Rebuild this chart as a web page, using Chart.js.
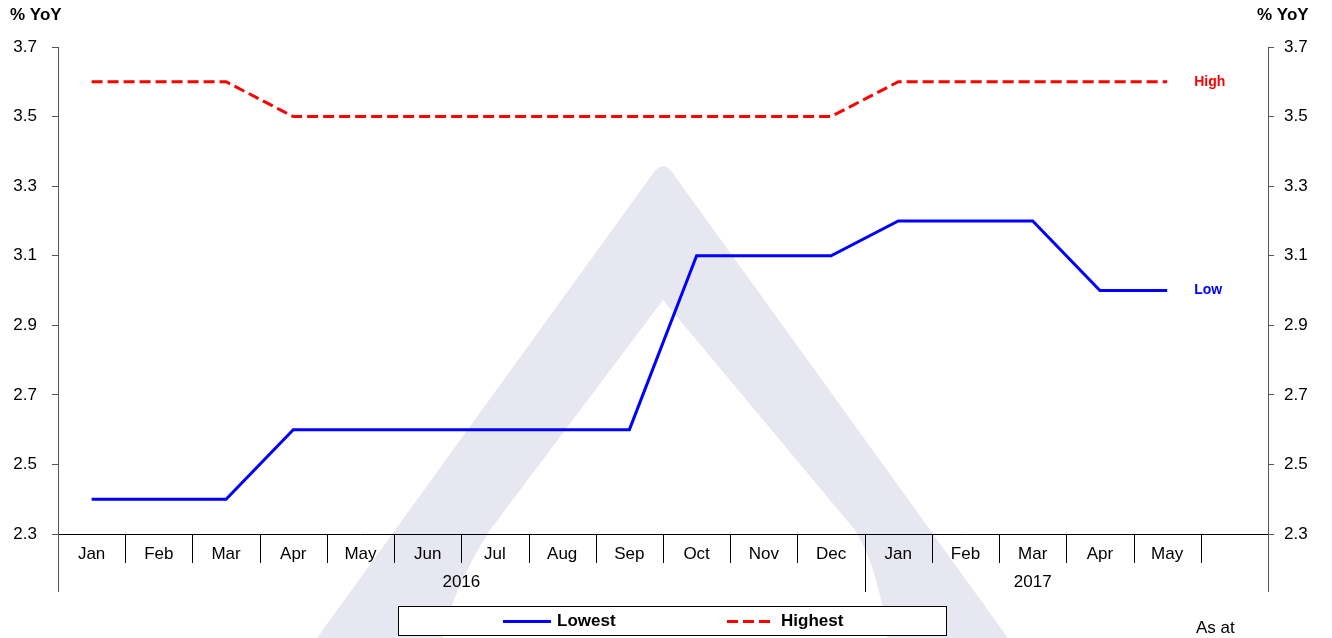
<!DOCTYPE html>
<html>
<head>
<meta charset="utf-8">
<script src="https://cdn.jsdelivr.net/npm/chart.js@4"></script>
<style>
  html, body { margin: 0; padding: 0; background: #fff; }
  #wrap { width: 1332px; height: 638px; position: relative; }
</style>
</head>
<body>
<div id="wrap"><canvas id="chart" width="1332" height="638"></canvas></div>
<script>
// months, last slot is left empty like the original
const months = ['Jan','Feb','Mar','Apr','May','Jun','Jul','Aug','Sep','Oct','Nov','Dec','Jan','Feb','Mar','Apr','May','']
const years = ['2016','2017']
const yearSpans = [12, 5]   // number of months under each year
const lowest  = [2.4,2.4,2.4,2.6,2.6,2.6,2.6,2.6,2.6,3.1,3.1,3.1,3.2,3.2,3.2,3.0,3.0,null]
const highest = [3.6,3.6,3.6,3.5,3.5,3.5,3.5,3.5,3.5,3.5,3.5,3.5,3.6,3.6,3.6,3.6,3.6,null]
const yMin = 2.3, yMax = 3.7, yStep = 0.2

const FONT = 'Arial, "Liberation Sans", sans-serif'

// faint triangle logo behind everything
const watermark = {
    id: 'watermark',
    beforeDraw(chart){
        const c = chart.ctx
        c.save()
        c.fillStyle = '#e7e7f1'
        c.beginPath()
        c.moveTo(317, 638)
        c.lineTo(654, 172)
        c.quadraticCurveTo(663, 160, 672, 172)
        c.lineTo(1008, 638)
        c.lineTo(887, 638)
        c.quadraticCurveTo(880, 572, 855, 530)
        c.lineTo(663, 300)
        c.lineTo(490, 530)
        c.quadraticCurveTo(452, 590, 443, 638)
        c.closePath()
        c.fill()
        c.restore()
    }
}

// separators, year row, axis titles, end labels, legend box
const decorations = {
    id: 'decorations',
    afterDraw(chart){
        const c = chart.ctx
        const xs = chart.scales.x
        const ys = chart.scales.y
        const n = months.length
        const w = (xs.right - xs.left) / n
        const base = xs.top

        c.save()
        c.lineWidth = 1
        // year boundaries get the long lines
        let yearEdges = [0]
        yearSpans.forEach(s => yearEdges.push(yearEdges[yearEdges.length-1] + s))
        for(let i = 0; i <= n; i++){
            let x = Math.round(xs.left + i*w) + 0.5
            let long = (i == 0 || i == n || yearEdges.slice(1, -1).includes(i))
            c.strokeStyle = (i == 0 || i == n) ? '#555' : '#000'
            c.beginPath()
            c.moveTo(x, base)
            c.lineTo(x, base + (long ? 58 : 29))
            c.stroke()
        }

        // year labels
        c.fillStyle = '#000'
        c.font = `17px ${FONT}`
        c.textAlign = 'center'
        c.textBaseline = 'middle'
        years.forEach((yr, k) => {
            let x0 = xs.left + yearEdges[k]*w
            let x1 = xs.left + yearEdges[k+1]*w
            c.fillText(yr, (x0+x1)/2, base + 48)
        })

        // "% YoY" on both sides
        c.font = `bold 17px ${FONT}`
        c.textAlign = 'left'
        c.fillText('% YoY', 10, 15)
        c.fillText('% YoY', 1257, 15)

        // end labels next to the lines
        c.font = `bold 14px ${FONT}`
        chart.data.datasets.forEach(ds => {
            let last = ds.data.length - 1
            while(ds.data[last] == null) last--
            let x = xs.getPixelForValue(last) + 27
            let y = ys.getPixelForValue(ds.data[last])
            c.fillStyle = ds.borderColor
            c.fillText(ds.endLabel, x, y)
        })

        // legend box
        const lx = 398.5, ly = 606.5, lw = 548, lh = 29
        c.fillStyle = '#fff'
        c.fillRect(lx, ly, lw, lh)
        c.strokeStyle = '#000'
        c.lineWidth = 1
        c.strokeRect(lx, ly, lw, lh)
        const itemX = [503, 727]
        c.font = `bold 17px ${FONT}`
        chart.data.datasets.forEach((ds, k) => {
            let x = itemX[k]
            let y = ly + lh/2 + 0.5
            c.strokeStyle = ds.borderColor
            c.lineWidth = 3
            c.setLineDash(ds.borderDash || [])
            c.beginPath()
            c.moveTo(x, y)
            c.lineTo(x + 48, y)
            c.stroke()
            c.setLineDash([])
            c.fillStyle = '#000'
            c.fillText(ds.label, x + 54, y)
        })

        c.font = `17px ${FONT}`
        c.fillStyle = '#000'
        c.fillText('As at', 1196, 628)
        c.restore()
    }
}

function yAxis(pos, width){
    return {
        position: pos,
        min: yMin,
        max: yMax,
        afterFit: (s) => { s.width = width },
        ticks: {
            stepSize: yStep,
            padding: pos == 'left' ? 15 : 10,
            color: '#000',
            font: { family: FONT, size: 17 },
            callback: (v) => v.toFixed(1)
        },
        grid: { drawOnChartArea: false, tickLength: 6, color: '#555' },
        border: { color: '#555', width: 1 }
    }
}

const cfg = {
    type: 'line',
    data: {
        labels: months,
        datasets: [
            { label: 'Lowest', endLabel: 'Low', data: lowest, borderColor: '#0000ff', borderWidth: 3,
              pointRadius: 0, tension: 0, fill: false, yAxisID: 'y' },
            { label: 'Highest', endLabel: 'High', data: highest, borderColor: '#ff0000', borderWidth: 3,
              borderDash: [11, 5], pointRadius: 0, tension: 0, fill: false, yAxisID: 'y' }
        ]
    },
    options: {
        responsive: false,
        animation: false,
        layout: { padding: { top: 47, left: 0, right: 0, bottom: 0 } },
        plugins: { legend: { display: false }, tooltip: { enabled: false } },
        scales: {
            x: {
                offset: true,
                afterFit: (s) => { s.height = 104 },
                grid: { display: false },
                border: { display: true, color: '#000', width: 1 },
                ticks: { color: '#000', font: { family: FONT, size: 17 }, padding: 2, maxRotation: 0, autoSkip: false }
            },
            y: yAxis('left', 58),
            y2: yAxis('right', 64)
        }
    },
    plugins: [watermark, decorations]
}

new Chart(document.getElementById('chart'), cfg)
</script>
</body>
</html>
